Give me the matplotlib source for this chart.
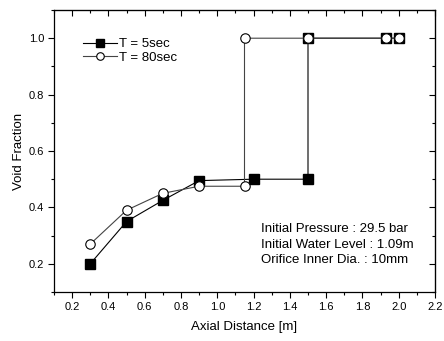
import matplotlib
matplotlib.use("Agg")
import matplotlib.pyplot as plt
from matplotlib.ticker import MultipleLocator, FormatStrFormatter

plt.rcParams['font.family'] = ['Liberation Sans', 'DejaVu Sans']

x_5 = [0.3, 0.5, 0.7, 0.9, 1.2, 1.5, 1.5, 1.93, 2.0]
y_5 = [0.2, 0.35, 0.425, 0.495, 0.5, 0.5, 1.0, 1.0, 1.0]
x_80 = [0.3, 0.5, 0.7, 0.9, 1.15, 1.15, 1.5, 1.93, 2.0]
y_80 = [0.27, 0.39, 0.45, 0.475, 0.475, 1.0, 1.0, 1.0, 1.0]
label_5 = "T = 5sec"
label_80 = "T = 80sec"
info_lines = ["Initial Pressure : 29.5 bar",
              "Initial Water Level : 1.09m",
              "Orifice Inner Dia. : 10mm"]

fig = plt.figure(figsize=(4.44, 3.41), dpi=100)
ax = fig.add_axes([54/444, 1-292/341, (435-54)/444, (292-10)/341])

ax.plot(x_5, y_5, color='black', lw=0.8, marker='s', ms=6.5,
        mfc='black', mec='black', label=label_5, zorder=3)
ax.plot(x_80, y_80, color='#444444', lw=0.8, marker='o', ms=6.8,
        mfc='white', mec='black', mew=0.8, label=label_80, zorder=4)

ax.set_xlim(0.1, 2.2)
ax.set_ylim(0.1, 1.1)
ax.xaxis.set_major_locator(MultipleLocator(0.2))
ax.xaxis.set_minor_locator(MultipleLocator(0.1))
ax.yaxis.set_major_locator(MultipleLocator(0.2))
ax.yaxis.set_minor_locator(MultipleLocator(0.1))
ax.xaxis.set_major_formatter(FormatStrFormatter('%.1f'))
ax.yaxis.set_major_formatter(FormatStrFormatter('%.1f'))
ax.tick_params(which='major', direction='out', length=4, width=0.8, labelsize=8, pad=3)
ax.tick_params(which='minor', direction='out', length=2, width=0.8)
for s in ax.spines.values():
    s.set_linewidth(0.9)

secx = ax.secondary_xaxis('top')
secx.xaxis.set_major_locator(MultipleLocator(0.2))
secx.xaxis.set_minor_locator(MultipleLocator(0.1))
secx.tick_params(which='major', direction='in', length=4, width=0.8, labeltop=False)
secx.tick_params(which='minor', direction='in', length=2, width=0.8)
secy = ax.secondary_yaxis('right')
secy.yaxis.set_major_locator(MultipleLocator(0.2))
secy.yaxis.set_minor_locator(MultipleLocator(0.1))
secy.tick_params(which='major', direction='in', length=4, width=0.8, labelright=False)
secy.tick_params(which='minor', direction='in', length=2, width=0.8)

ax.set_xlabel("Axial Distance [m]", fontsize=9.5, labelpad=7)
ax.set_ylabel("Void Fraction", fontsize=9.5, labelpad=3)

ax.legend(loc='upper left', bbox_to_anchor=(0.075, 0.90), frameon=False,
          fontsize=9.5, handlelength=2.6, handletextpad=0.15, labelspacing=0.1,
          borderaxespad=0, borderpad=0, markerscale=0.8)

ax.text(0.543, 0.167, "\n".join(info_lines), transform=ax.transAxes,
        fontsize=9.5, va='center', ha='left', linespacing=1.38)

fig.savefig("out.png", dpi=100)
